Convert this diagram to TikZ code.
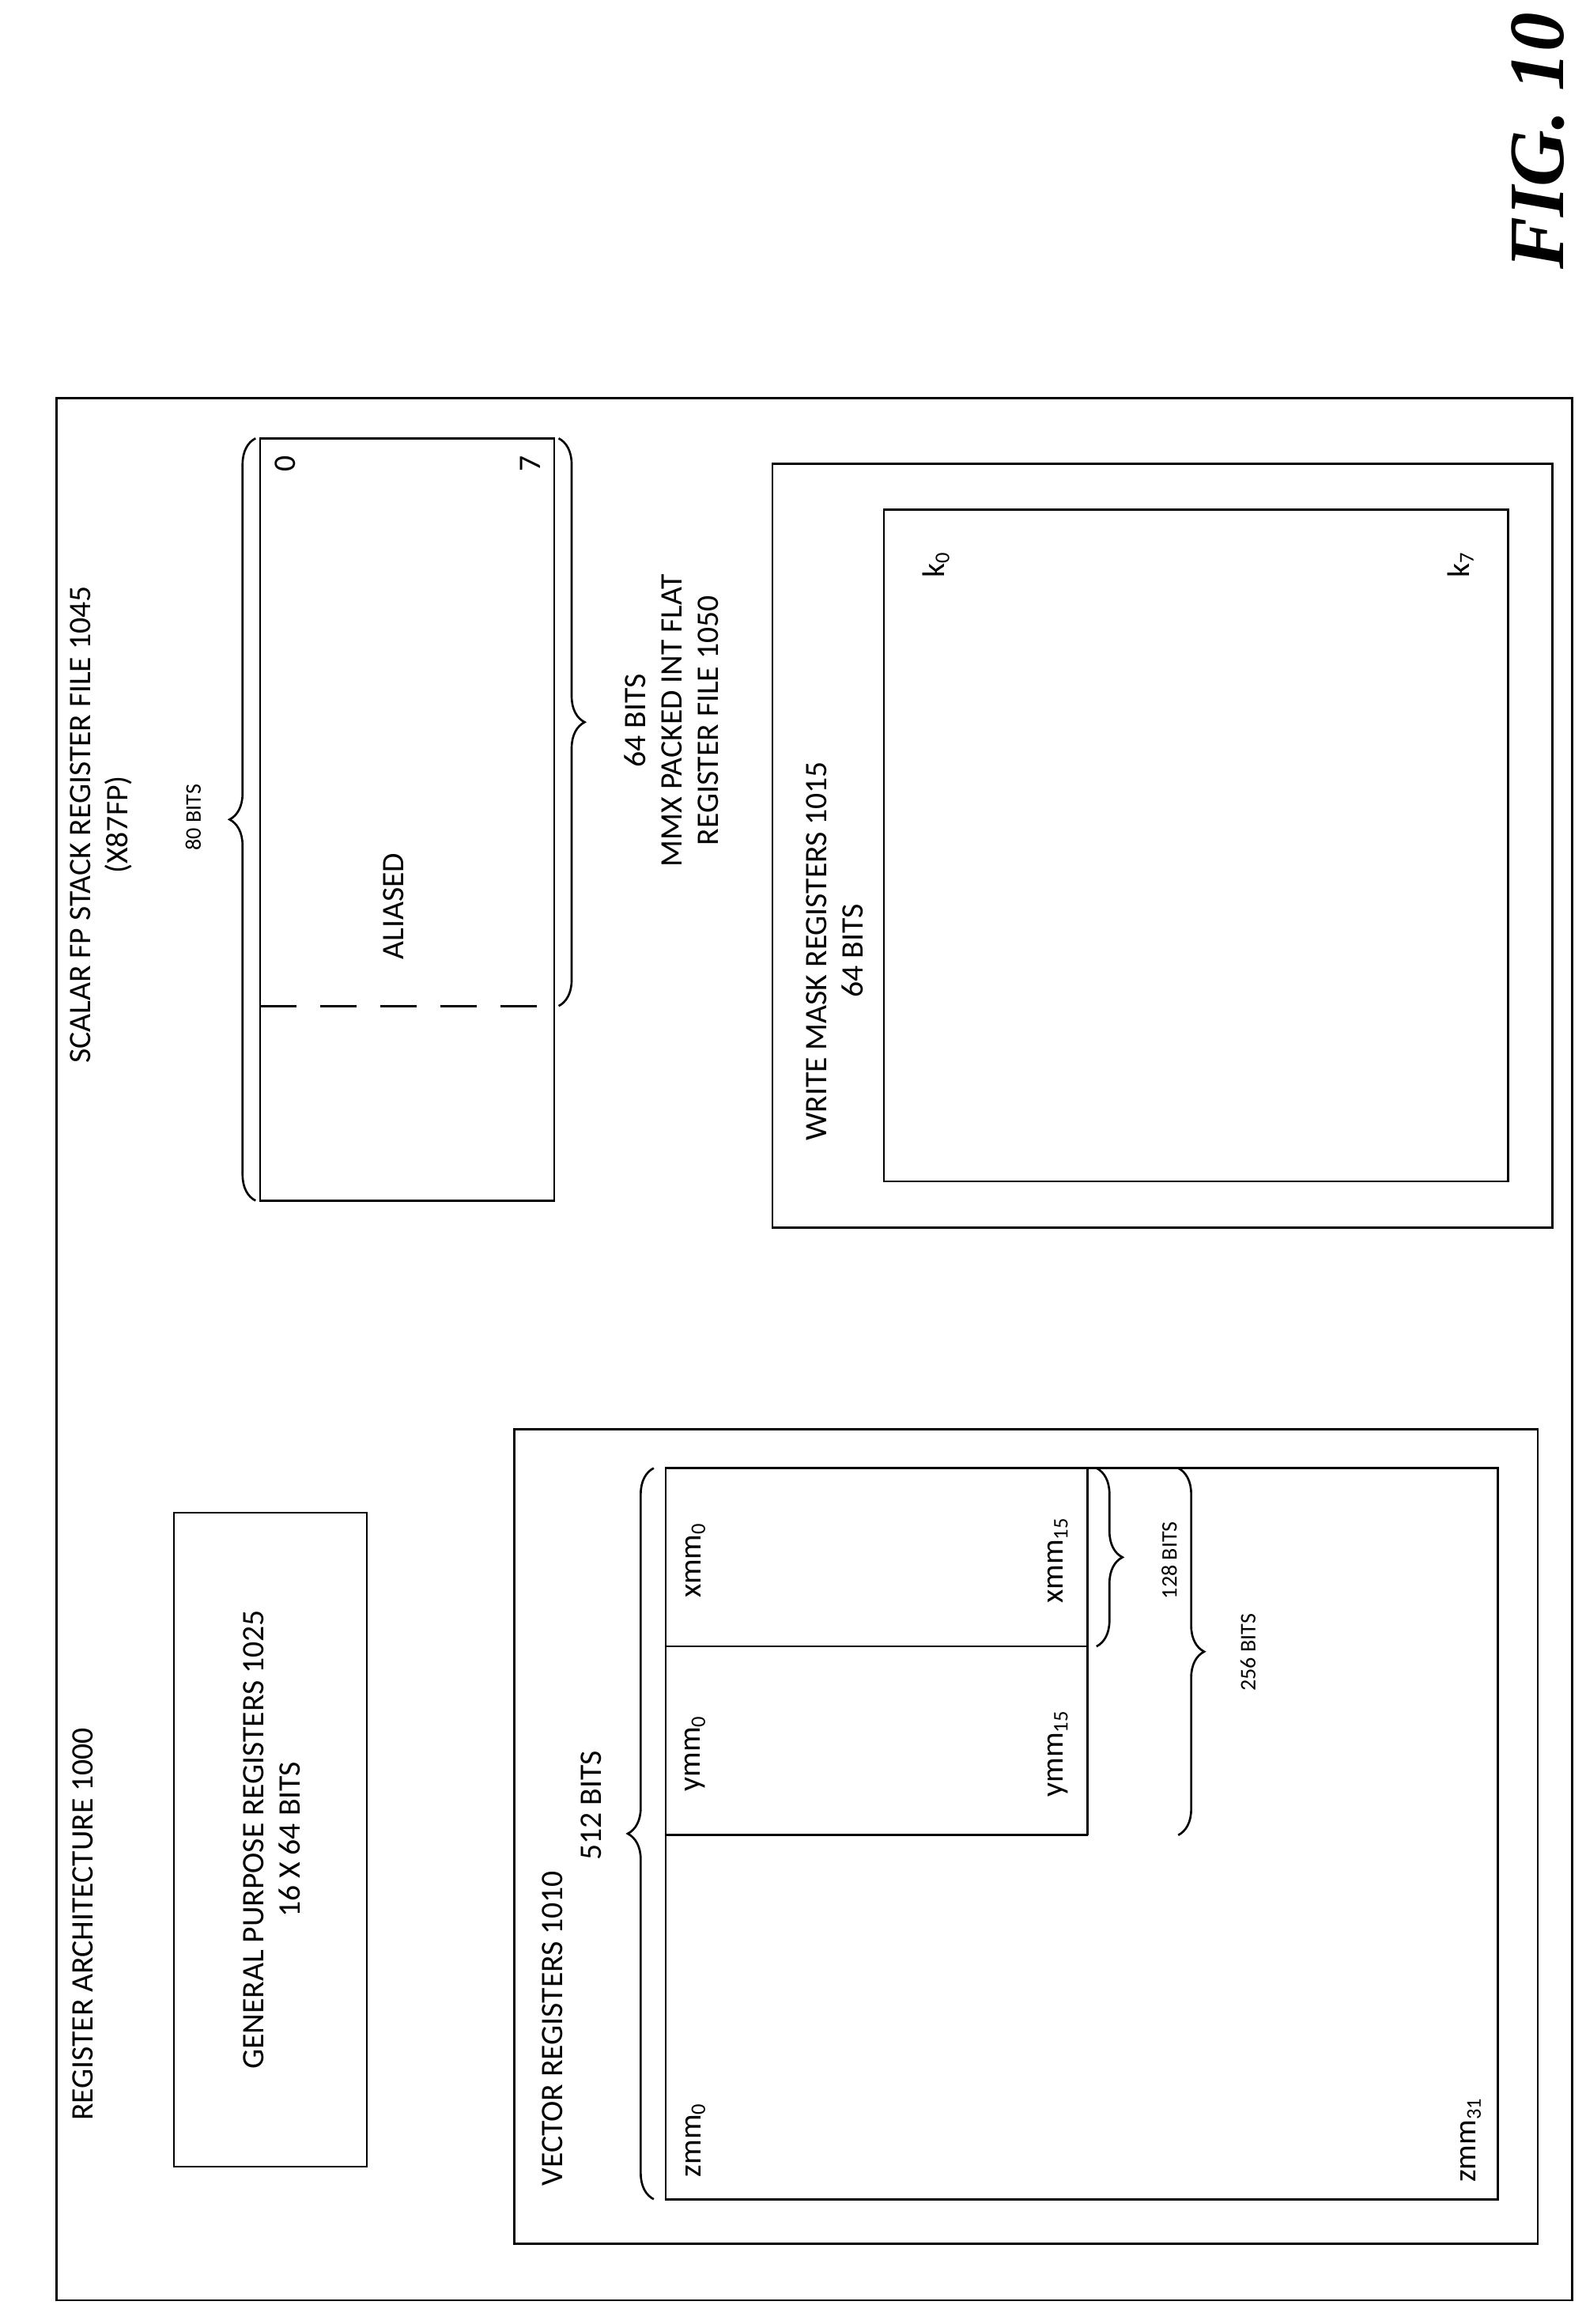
\documentclass[tikz,border=0pt]{standalone}
\usepackage{fontspec}
\setmainfont{Carlito}
\newfontfamily\figfont{Liberation Serif}
\usetikzlibrary{decorations.pathreplacing}
\tikzset{lbl/.style={rotate=90, inner sep=1pt, font=\fontsize{12}{14}\selectfont},
  small/.style={rotate=90, inner sep=1pt, font=\fontsize{8.5}{10}\selectfont},
  brc/.style={decorate, decoration={brace, amplitude=3.5mm}, thick},
  box/.style={draw, thick}}
\begin{document}
\begin{tikzpicture}[x=0.2mm, y=-0.2mm]
    \useasboundingbox (0,0) rectangle (1067,1564);
    
    %Frames
    \draw[box] (38,268) rectangle (1058,1548);
    \draw[box] (117,1018) rectangle (247,1458);
    \draw[box] (346,962) rectangle (1035,1510);
    \draw[box] (448,988) rectangle (1008,1480);
    \draw[box] (448,1108) -- (732,1108);
    \draw[box] (448,1235) -- (732,1235);
    \draw[box] (732,988) -- (732,1235);
    \draw[box] (175,295) rectangle (373,808);
    \draw[box, dashed, dash pattern=on 14pt off 9pt] (175,677) -- (373,677);
    \draw[box] (520,312) rectangle (1045,826);
    \draw[box] (595,343) rectangle (1015,795);
    
    %Texts
    \node[font=\figfont\bfseries\itshape\fontsize{30}{34}\selectfont, rotate=90] (fig) at (1035,95) {FIG. 10};
    \node[lbl] (arch) at (56,1295) {REGISTER ARCHITECTURE 1000};
    \node[lbl, align=center] (gpr) at (183,1238) {GENERAL PURPOSE REGISTERS 1025\\16 X 64 BITS};
    \node[lbl] (vec) at (372,1365) {VECTOR REGISTERS 1010};
    \node[lbl] (vbits) at (398,1215) {512 BITS};
    \node[lbl] (zmm0) at (468,1440) {zmm\textsubscript{0}};
    \node[lbl] (zmm31) at (990,1440) {zmm\textsubscript{31}};
    \node[lbl] (ymm0) at (468,1180) {ymm\textsubscript{0}};
    \node[lbl] (ymm15) at (712,1180) {ymm\textsubscript{15}};
    \node[lbl] (xmm0) at (468,1050) {xmm\textsubscript{0}};
    \node[lbl] (xmm15) at (712,1050) {xmm\textsubscript{15}};
    \node[small] (b128) at (787,1050) {128 BITS};
    \node[small] (b256) at (840,1112) {256 BITS};
    \node[lbl, align=center] (fp) at (68,555) {SCALAR FP STACK REGISTER FILE 1045\\(X87FP)};
    \node[small] (b80) at (130,550) {80 BITS};
    \node[lbl] (alias) at (265,610) {ALIASED};
    \node[lbl] (r0) at (192,312) {0};
    \node[lbl] (r7) at (357,312) {7};
    \node[lbl, align=center] (mmx) at (452,485) {64 BITS\\MMX PACKED INT FLAT\\REGISTER FILE 1050};
    \node[lbl, align=center] (wm) at (562,640) {WRITE MASK REGISTERS 1015\\64 BITS};
    \node[lbl] (k0) at (630,380) {k\textsubscript{0}};
    \node[lbl] (k7) at (983,380) {k\textsubscript{7}};
    
    %Braces
    \draw[brc] (440,1480) -- (440,988);
    \draw[brc] (738,988) -- (738,1108);
    \draw[brc] (793,988) -- (793,1235);
    \draw[brc] (172,808) -- (172,295);
    \draw[brc] (376,295) -- (376,677);
\end{tikzpicture}
\end{document}
